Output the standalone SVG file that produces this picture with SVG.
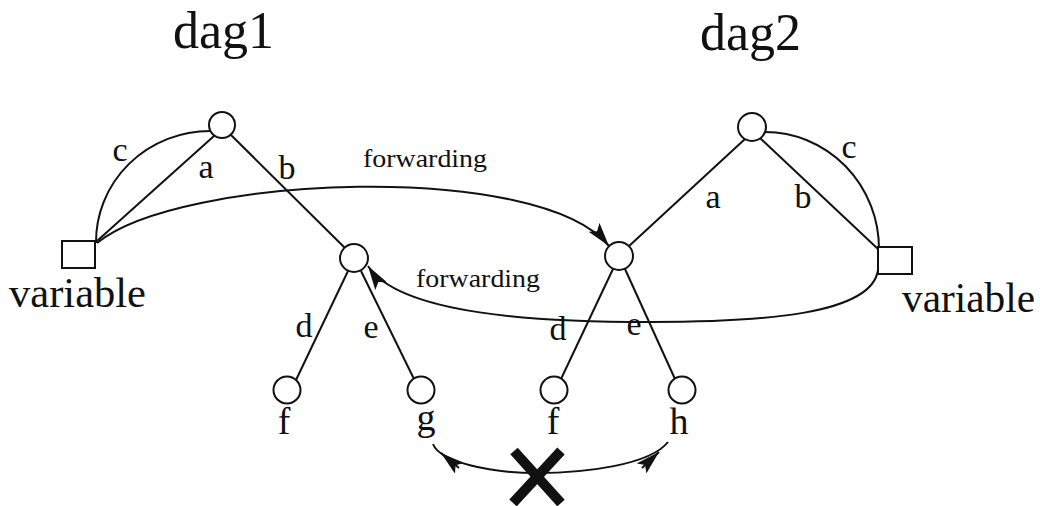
<svg xmlns="http://www.w3.org/2000/svg" width="1040" height="506" viewBox="0 0 1040 506">
<style>
  .ln{fill:none;stroke:#111;stroke-width:2}
  .nd{fill:#fff;stroke:#111;stroke-width:2}
  .t{font-family:"Liberation Serif","Times New Roman",serif;fill:#111}
  .title{font-size:52px}
  .lab{font-size:34px;text-anchor:middle}
  .leaf{font-size:38px;text-anchor:middle}
  .var{font-size:42px}
  .fw{font-size:25px}
  .x{stroke:#111;stroke-width:10;fill:none}
</style>
<defs>
  <marker id="arr" viewBox="0 0 24 14" refX="24" refY="7" markerWidth="24" markerHeight="14" markerUnits="userSpaceOnUse" orient="auto">
    <path d="M0,0 L24,7 L0,14 L5,7 z" fill="#111"/>
  </marker>
</defs>

<text class="t title" x="173" y="48">dag1</text>
<text class="t title" x="700" y="50">dag2</text>

<g id="connectors">
  <!-- dag1 edges -->
  <path class="ln" d="M210,131 A114,111 0 0 0 96,243"/>
  <line class="ln" x1="214" y1="136" x2="97" y2="241"/>
  <line class="ln" x1="231" y1="135" x2="345" y2="248"/>
  <line class="ln" x1="348" y1="271" x2="296" y2="380"/>
  <line class="ln" x1="361" y1="271" x2="414" y2="379"/>
  <!-- dag2 edges -->
  <path class="ln" d="M765,132 A114,117 0 0 1 879,249"/>
  <line class="ln" x1="745" y1="139" x2="628" y2="247"/>
  <line class="ln" x1="760" y1="138" x2="878" y2="249"/>
  <line class="ln" x1="613" y1="269" x2="561" y2="379"/>
  <line class="ln" x1="625" y1="269" x2="675" y2="379"/>
  <!-- forwarding arcs -->
  <path class="ln" d="M97,243 C180,175 540,160 609,246" marker-end="url(#arr)"/>
  <path class="ln" d="M878,270 C872,315 760,322 650,322 C540,322 400,315 368,266" marker-end="url(#arr)"/>
  <!-- g <-> h -->
  <path class="ln" d="M433,444 C440,462 490,473 537,473 C585,473 650,465 668,442"/>
  <path class="ln" d="M459,468 L441,453" marker-end="url(#arr)"/>
  <path class="ln" d="M642,468 L659,452" marker-end="url(#arr)"/>
  <line class="x" x1="514" y1="451" x2="561" y2="503"/>
  <line class="x" x1="561" y1="451" x2="513" y2="503"/>
</g>

<g id="dag1-root"><circle class="nd" cx="222" cy="125" r="13"/></g>
<g id="dag1-var"><rect class="nd" x="62" y="241" width="33" height="27"/><text class="t var" x="9" y="307" textLength="137" lengthAdjust="spacingAndGlyphs">variable</text></g>
<g id="dag1-mid"><circle class="nd" cx="354" cy="258" r="14"/></g>
<g id="dag1-f"><circle class="nd" cx="287" cy="390" r="13.5"/><text class="t leaf" x="284" y="434">f</text></g>
<g id="dag1-g"><circle class="nd" cx="421" cy="390" r="13.5"/><text class="t leaf" x="426" y="430">g</text></g>

<g id="dag2-root"><circle class="nd" cx="752" cy="127" r="14"/></g>
<g id="dag2-var"><rect class="nd" x="878" y="247" width="34" height="27"/><text class="t var" x="902" y="312" textLength="133" lengthAdjust="spacingAndGlyphs">variable</text></g>
<g id="dag2-mid"><circle class="nd" cx="619" cy="256" r="14"/></g>
<g id="dag2-f"><circle class="nd" cx="554" cy="390" r="13.5"/><text class="t leaf" x="553" y="434">f</text></g>
<g id="dag2-h"><circle class="nd" cx="682" cy="390" r="13.5"/><text class="t leaf" x="679" y="434">h</text></g>

<g id="labels">
  <text class="t lab" x="120" y="161">c</text>
  <text class="t lab" x="206" y="178">a</text>
  <text class="t lab" x="287" y="179">b</text>
  <text class="t lab" x="304" y="337">d</text>
  <text class="t lab" x="371" y="338">e</text>
  <text class="t lab" x="713" y="208">a</text>
  <text class="t lab" x="803" y="208">b</text>
  <text class="t lab" x="849" y="158">c</text>
  <text class="t lab" x="558" y="340">d</text>
  <text class="t lab" x="634" y="335">e</text>
  <text class="t fw" x="363" y="167" textLength="124" lengthAdjust="spacingAndGlyphs">forwarding</text>
  <text class="t fw" x="416" y="287" textLength="124" lengthAdjust="spacingAndGlyphs">forwarding</text>
</g>
</svg>
